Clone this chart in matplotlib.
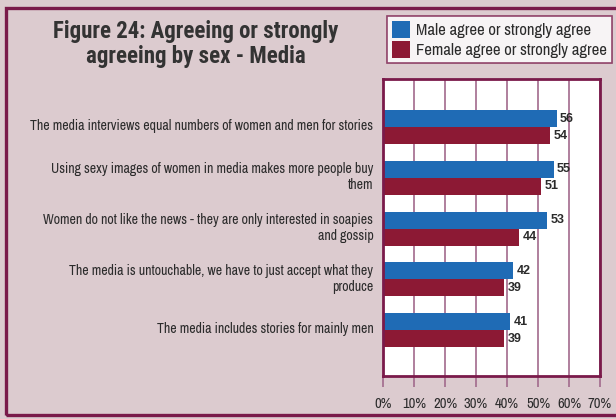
import matplotlib.pyplot as plt
from matplotlib.patches import Rectangle, Patch
from matplotlib.transforms import ScaledTranslation

# Survey statements and share agreeing (%)
statements = [
    "The media interviews equal numbers of women and men for stories",
    "Using sexy images of women in media makes more people buy\nthem",
    "Women do not like the news - they are only interested in soapies\nand gossip",
    "The media is untouchable, we have to just accept what they\nproduce",
    "The media includes stories for mainly men",
]
male = [56, 55, 53, 42, 41]
female = [54, 51, 44, 39, 39]
series_names = ["Male agree or strongly agree", "Female agree or strongly agree"]
xticks = [0, 10, 20, 30, 40, 50, 60, 70]

BG = "#dccbcf"
FRAME = "#7a1a4a"
GRID = "#a26a8c"
BLUE = "#1f6bb5"
RED = "#8c1934"
TXT = "#2b2b2b"

plt.rcParams["font.family"] = ["Archivo Narrow", "Liberation Sans", "DejaVu Sans"]

W, H = 616, 419
fig = plt.figure(figsize=(W / 100, H / 100), dpi=100)
fig.patch.set_facecolor(BG)

# outer frame (runs off the right edge)
fig.patches.append(Rectangle((5.5 / W, 4.5 / H), 640 / W, (H - 13) / H,
                             transform=fig.transFigure, fill=False,
                             edgecolor=FRAME, linewidth=2.4, zorder=0))

ax = fig.add_axes([383 / W, 43 / H, 217 / W, 297 / H])
ax.set_facecolor("white")

pos = list(range(len(statements)))
h = 0.335
ax.barh([p - h / 2 for p in pos], male, height=h, color=BLUE, zorder=2)
ax.barh([p + h / 2 for p in pos], female, height=h, color=RED, zorder=2)

for p, m, f in zip(pos, male, female):
    for v, yy in ((m, p - h / 2), (f, p + h / 2)):
        ax.annotate(str(v), (v, yy), xytext=(2.5, 0), textcoords="offset points",
                    va="center", ha="left", fontsize=9, fontweight="bold",
                    color=TXT, family=["Liberation Sans", "DejaVu Sans"], zorder=3)

ax.set_xlim(0, 70)
ax.set_ylim(4.906, -0.946)
ax.set_xticks(xticks)
ax.set_xticklabels([f"{t}%" for t in xticks], fontsize=10.5, color=TXT)
ax.set_yticks(pos)
ax.set_yticklabels(statements, fontsize=10, color=TXT, linespacing=1.2)
ax.tick_params(axis="y", length=0, pad=7)
ax.tick_params(axis="x", length=8, width=1.2, color=GRID, pad=7)
# category labels sit a little above the bar pair centre
lift = ScaledTranslation(0, 3 / 100, fig.dpi_scale_trans)
for lab in ax.get_yticklabels():
    lab.set_transform(lab.get_transform() + lift)
ax.grid(axis="x", color=GRID, linewidth=1.2, zorder=1)
for s in ax.spines.values():
    s.set_color(FRAME)
    s.set_linewidth(2)

fig.text(196 / W, 1 - 44 / H,
         "Figure 24: Agreeing or strongly\nagreeing by sex - Media",
         ha="center", va="center", fontsize=16.5, fontweight="bold",
         color="#333333", family=["Roboto Condensed", "Liberation Sans", "DejaVu Sans"],
         linespacing=1.12)

handles = [Patch(facecolor=BLUE), Patch(facecolor=RED)]
leg = fig.legend(handles, series_names, loc="upper left",
                 bbox_to_anchor=(387 / W, 1 - 16 / H), fontsize=12,
                 frameon=True, fancybox=False, handlelength=1.1,
                 handleheight=1.15, handletextpad=0.35, borderpad=0.3,
                 labelspacing=0.2, borderaxespad=0)
leg.get_frame().set_edgecolor(FRAME)
leg.get_frame().set_linewidth(1.2)
for t in leg.get_texts():
    t.set_color(TXT)

fig.savefig("out.png", dpi=100, facecolor=BG)
